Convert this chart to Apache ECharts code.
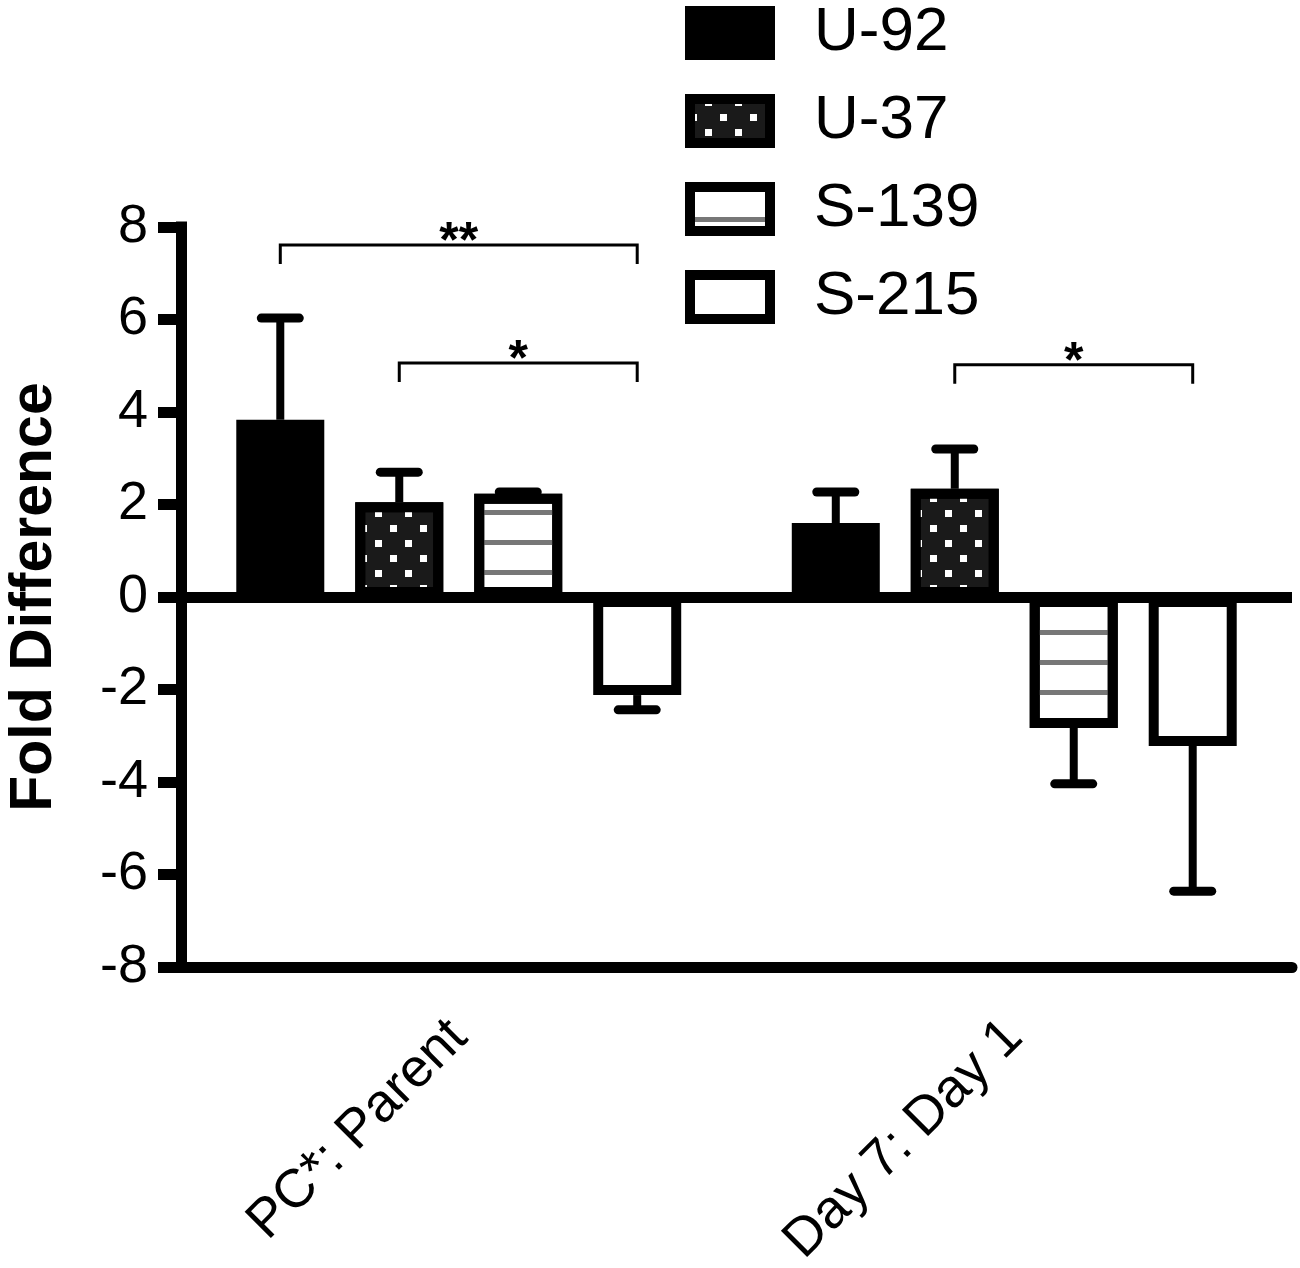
<html lang="en">
<head>
    <meta charset="UTF-8">
    <title>Fold Difference</title>
    <script src="https://cdn.jsdelivr.net/npm/echarts@6/dist/echarts.min.js"></script>
    <style type="text/css">
        html, body { margin: 0; padding: 0; background: #fff; }
        #main { width: 1300px; height: 1268px; }
    </style>
</head>
<body>
    <div id="main"></div>
    <script type="text/javascript">
        // data
        var categories = ['PC*: Parent', 'Day 7: Day 1'];
        var seriesNames = ['U-92', 'U-37', 'S-139', 'S-215'];
        var yTicks = [-8, -6, -4, -2, 0, 2, 4, 6, 8];

        var u92 = [3.83, 1.60];
        var u37 = [2.05, 2.34];
        var s139 = [2.23, -2.83];
        var s215 = [-2.12, -3.22];

        // end of the error bar (one sided, away from zero)
        var u92Err = [6.03, 2.27];
        var u37Err = [2.70, 3.20];
        var s139Err = [2.27, -4.04];
        var s215Err = [-2.44, -6.36];

        // significance brackets: [category, bar index] -> [category, bar index]
        var bracketFrom = [[0, 0], [0, 1], [1, 1]];
        var bracketTo = [[0, 3], [0, 3], [1, 3]];
        var bracketY = [7.61, 5.06, 5.02];
        var bracketText = ['**', '*', '*'];

        var FONT = '"Liberation Sans", Arial, Helvetica, sans-serif';
        var BAR_W = 88;
        var GAP = 0.352;
        var STEP = BAR_W * (1 + GAP);   // distance between bar centres in a group

        var means = [u92, u37, s139, s215];
        var errs = [u92Err, u37Err, s139Err, s215Err];

        var styles = [
            { color: '#000', borderColor: '#000', borderWidth: 10 },
            {
                color: '#1a1a1a', borderColor: '#000', borderWidth: 10,
                decal: {
                    symbol: 'rect', symbolSize: 1, color: '#fff',
                    dashArrayX: [[7, 23], [0, 15, 7, 8]],
                    dashArrayY: [7, 8]
                }
            },
            {
                color: '#fff', borderColor: '#000', borderWidth: 10,
                decal: {
                    symbol: 'rect', symbolSize: 1, color: '#777',
                    dashArrayX: [1, 0],
                    dashArrayY: [5, 25]
                }
            },
            { color: '#fff', borderColor: '#000', borderWidth: 10 }
        ];

        var series = [];
        for (var k = 0; k < seriesNames.length; k++) {
            var s = {
                name: seriesNames[k],
                type: 'bar',
                barWidth: BAR_W,
                barGap: (GAP * 100) + '%',
                data: means[k],
                itemStyle: styles[k],
                emphasis: { disabled: true },
                z: 2
            };
            if (k === 0) {
                // heavy line at zero
                s.markLine = {
                    silent: true,
                    symbol: 'none',
                    data: [{ yAxis: 0 }],
                    label: { show: false },
                    lineStyle: { color: '#000', width: 11, type: 'solid' }
                };
            }
            series.push(s);
        }

        // error bars
        var errData = [];
        for (var k = 0; k < means.length; k++) {
            for (var c = 0; c < categories.length; c++) {
                errData.push([c, means[k][c], errs[k][c], k]);
            }
        }
        series.push({
            type: 'custom',
            silent: true,
            z: 3,
            data: errData,
            renderItem: function (params, api) {
                var p0 = api.coord([api.value(0), api.value(1)]);
                var p1 = api.coord([api.value(0), api.value(2)]);
                var x = p0[0] + (api.value(3) - 1.5) * STEP;
                return {
                    type: 'group',
                    children: [{
                        type: 'line',
                        shape: { x1: x, y1: p0[1], x2: x, y2: p1[1] },
                        style: { stroke: '#000', lineWidth: 8 }
                    }, {
                        type: 'line',
                        shape: { x1: x - 19, y1: p1[1], x2: x + 19, y2: p1[1] },
                        style: { stroke: '#000', lineWidth: 9, lineCap: 'round' }
                    }]
                };
            }
        });

        // significance brackets
        series.push({
            type: 'custom',
            silent: true,
            z: 4,
            data: bracketY.map(function (y, i) { return [bracketFrom[i][0], y, i]; }),
            renderItem: function (params, api) {
                var i = api.value(2);
                var y = api.value(1);
                var a = api.coord([bracketFrom[i][0], y]);
                var b = api.coord([bracketTo[i][0], y]);
                var xa = a[0] + (bracketFrom[i][1] - 1.5) * STEP;
                var xb = b[0] + (bracketTo[i][1] - 1.5) * STEP;
                var yy = a[1];
                return {
                    type: 'group',
                    children: [{
                        type: 'polyline',
                        shape: { points: [[xa, yy + 19], [xa, yy], [xb, yy], [xb, yy + 19]] },
                        style: { stroke: '#000', lineWidth: 3, fill: null }
                    }, {
                        type: 'text',
                        style: {
                            x: (xa + xb) / 2, y: yy - 2,
                            text: bracketText[i],
                            fill: '#000',
                            font: 'bold 50px ' + FONT,
                            align: 'center', verticalAlign: 'middle'
                        }
                    }]
                };
            }
        });

        var chart = echarts.init(document.getElementById('main'));
        var option = {
            animation: false,
            backgroundColor: '#fff',
            textStyle: { fontFamily: FONT },
            grid: {
                left: 181, right: 8, top: 227, bottom: 301,
                containLabel: false,
                outerBoundsMode: 'none'
            },
            legend: {
                data: seriesNames,
                orient: 'vertical',
                left: 685,
                top: 2,
                padding: 0,
                icon: 'rect',
                itemWidth: 80,
                itemHeight: 44,
                itemGap: 26,
                selectedMode: false,
                itemStyle: { borderWidth: 10, borderColor: '#000' },
                textStyle: {
                    fontSize: 62, color: '#000', fontFamily: FONT,
                    lineHeight: 54, padding: [0, 0, 0, 39]
                }
            },
            xAxis: {
                type: 'category',
                data: categories,
                axisLine: { onZero: false, lineStyle: { color: '#000', width: 11 } },
                axisTick: { alignWithLabel: true, length: 30, lineStyle: { color: '#000', width: 11 } },
                axisLabel: { rotate: 45, fontSize: 54, color: '#000', margin: 62, interval: 0, fontFamily: FONT },
                splitLine: { show: false }
            },
            yAxis: {
                type: 'value',
                min: yTicks[0],
                max: yTicks[yTicks.length - 1],
                interval: 2,
                name: 'Fold Difference',
                nameLocation: 'middle',
                nameGap: 117,
                nameTextStyle: { fontSize: 59, fontWeight: 'bold', color: '#000', fontFamily: FONT },
                axisLine: { show: true, lineStyle: { color: '#000', width: 11, cap: 'square' } },
                axisTick: { show: true, length: 23, lineStyle: { color: '#000', width: 11 } },
                axisLabel: { fontSize: 54, color: '#000', margin: 33, fontFamily: FONT },
                splitLine: { show: false }
            },
            series: series
        };
        chart.setOption(option);
    </script>
</body>
</html>
